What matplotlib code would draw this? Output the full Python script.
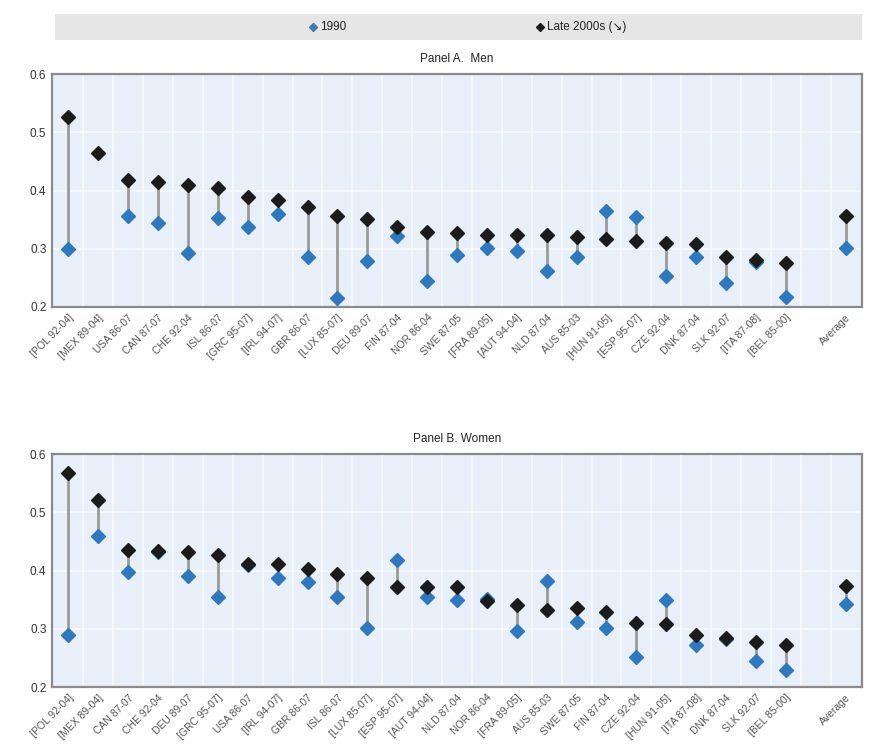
import numpy as np
import matplotlib
matplotlib.use("Agg")
import matplotlib.pyplot as plt

plt.rcParams['font.family'] = ['Liberation Sans Narrow', 'Liberation Sans', 'DejaVu Sans']

# ---------------- data ----------------
men_labels = ["[POL 92-04]", "[MEX 89-04]", "USA 86-07", "CAN 87-07", "CHE 92-04", "ISL 86-07",
              "[GRC 95-07]", "[IRL 94-07]", "GBR 86-07", "[LUX 85-07]", "DEU 89-07", "FIN 87-04",
              "NOR 86-04", "SWE 87-05", "[FRA 89-05]", "[AUT 94-04]", "NLD 87-04", "AUS 85-03",
              "[HUN 91-05]", "[ESP 95-07]", "CZE 92-04", "DNK 87-04", "SLK 92-07", "[ITA 87-08]",
              "[BEL 85-00]", "Average"]
men_1990 = [0.300, np.nan, 0.356, 0.344, 0.292, 0.353, 0.338, 0.360, 0.285, 0.215, 0.279, 0.322,
            0.245, 0.290, 0.302, 0.297, 0.262, 0.285, 0.365, 0.354, 0.254, 0.285, 0.242, 0.278,
            0.218, 0.302]
men_late = [0.527, 0.464, 0.418, 0.415, 0.409, 0.405, 0.388, 0.384, 0.372, 0.356, 0.351, 0.338,
            0.328, 0.327, 0.324, 0.324, 0.324, 0.321, 0.317, 0.314, 0.310, 0.308, 0.286, 0.281,
            0.275, 0.357]

women_labels = ["[POL 92-04]", "[MEX 89-04]", "CAN 87-07", "CHE 92-04", "DEU 89-07", "[GRC 95-07]",
                "USA 86-07", "[IRL 94-07]", "GBR 86-07", "ISL 86-07", "[LUX 85-07]", "[ESP 95-07]",
                "[AUT 94-04]", "NLD 87-04", "NOR 86-04", "[FRA 89-05]", "AUS 85-03", "SWE 87-05",
                "FIN 87-04", "CZE 92-04", "[HUN 91-05]", "[ITA 87-08]", "DNK 87-04", "SLK 92-07",
                "[BEL 85-00]", "Average"]
women_1990 = [0.289, 0.459, 0.398, 0.432, 0.391, 0.355, 0.410, 0.388, 0.381, 0.355, 0.302, 0.418,
              0.355, 0.350, 0.352, 0.297, 0.382, 0.312, 0.302, 0.252, 0.349, 0.273, 0.283, 0.245,
              0.230, 0.343]
women_late = [0.567, 0.521, 0.435, 0.433, 0.432, 0.427, 0.412, 0.412, 0.403, 0.394, 0.387, 0.372,
              0.371, 0.372, 0.348, 0.340, 0.333, 0.335, 0.328, 0.310, 0.308, 0.289, 0.285, 0.278,
              0.273, 0.374]

yticks = [0.2, 0.3, 0.4, 0.5, 0.6]

# ---------------- style ----------------
BLUE = "#2f78bd"
BLACK = "#1b1b1b"
STEM = "#9a9a9a"
BG = "#e9eff9"
FRAME = "#8a8a8a"

fig = plt.figure(figsize=(8.72, 7.53), dpi=100)
fig.patch.set_facecolor("white")


def positions(n):
    # countries at 0..n-2, a gap, then the average
    return list(range(n - 1)) + [n]


def panel(rect, labels, v1990, vlate, title):
    ax = fig.add_axes(rect)
    ax.set_facecolor(BG)
    x = positions(len(labels))
    for xi, a, b in zip(x, v1990, vlate):
        if not (np.isnan(a) or np.isnan(b)):
            ax.plot([xi, xi], [a, b], color=STEM, lw=2.0, zorder=2, solid_capstyle="butt")
    ax.plot(x, v1990, ls="none", marker="D", ms=7.2, mfc=BLUE, mec=BLUE, zorder=3)
    ax.plot(x, vlate, ls="none", marker="D", ms=7.2, mfc=BLACK, mec=BLACK, zorder=4)
    ax.set_xlim(-0.55, x[-1] + 0.55)
    ax.set_ylim(0.2, 0.6)
    ax.set_yticks(yticks)
    ax.set_yticklabels([f"{t:.1f}" for t in yticks], fontsize=8.5, color="#333333")
    ax.set_xticks(x)
    ax.set_xticklabels(labels, rotation=45, ha="right", rotation_mode="anchor",
                       fontsize=7.5, color="#555555")
    ax.set_xticks([i + 0.5 for i in range(len(labels))], minor=True)
    ax.tick_params(axis="both", which="both", length=0, pad=4)
    ax.grid(True, axis="x", which="minor", color="white", lw=1.2, alpha=0.6, zorder=0)
    ax.grid(True, axis="y", which="major", color="white", lw=1.2, alpha=0.6, zorder=0)
    ax.set_axisbelow(True)
    for s in ax.spines.values():
        s.set_color(FRAME)
        s.set_linewidth(1.6)
    fig.text(rect[0] + rect[2] / 2, rect[1] + rect[3] + 0.012, title,
             ha="center", va="bottom", fontsize=8.5, color="#222222")
    return ax


axA = panel([0.0596, 0.5923, 0.929, 0.3094], men_labels, men_1990, men_late, "Panel A.  Men")
axB = panel([0.0596, 0.0876, 0.929, 0.3094], women_labels, women_1990, women_late, "Panel B. Women")

# legend band
band = fig.add_axes([0.063, 0.947, 0.926, 0.035])
band.set_facecolor("#e6e6e6")
band.set_xticks([])
band.set_yticks([])
for s in band.spines.values():
    s.set_visible(False)
band.set_xlim(0, 1)
band.set_ylim(0, 1)
band.plot([0.320], [0.5], marker="D", ms=4, color="#3e7ab3", ls="none")
band.text(0.328, 0.5, "1990", va="center", ha="left", fontsize=8.5, color="#222222")
band.plot([0.601], [0.5], marker="D", ms=4, color=BLACK, ls="none")
band.text(0.609, 0.5, "Late 2000s (\u2198)", va="center", ha="left", fontsize=8.5, color="#222222")

fig.savefig("out.png", dpi=100)
